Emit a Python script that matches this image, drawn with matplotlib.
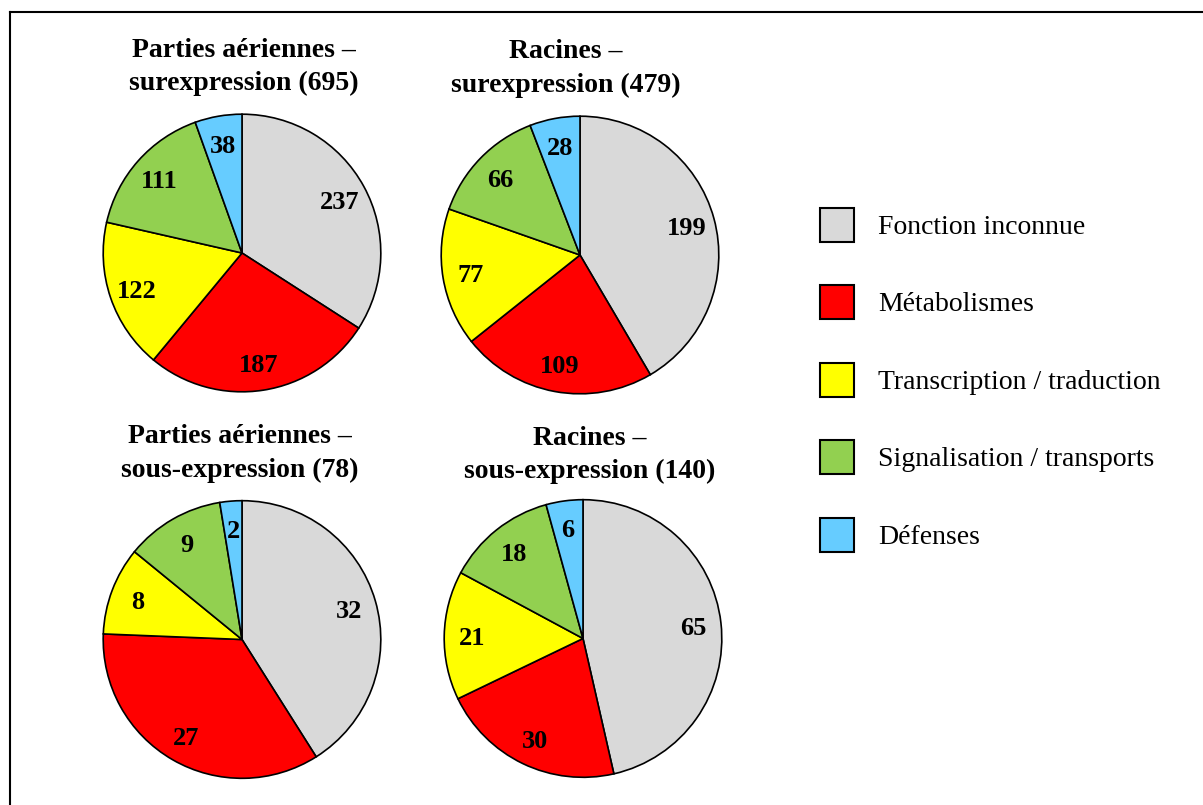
import matplotlib
matplotlib.use("Agg")
import matplotlib.pyplot as plt
from matplotlib.patches import Rectangle
from matplotlib.lines import Line2D

plt.rcParams['font.family'] = ['Liberation Serif', 'DejaVu Serif']

categories = ["Fonction inconnue", "Métabolismes", "Transcription / traduction",
              "Signalisation / transports", "Défenses"]
colors = ["#D9D9D9", "#FF0000", "#FFFF00", "#92D050", "#66CCFF"]

titles = ["Parties aériennes –\nsurexpression (695)",
          "Racines –\nsurexpression (479)",
          "Parties aériennes –\nsous-expression (78)",
          "Racines –\nsous-expression (140)"]

aerial_up = [237, 187, 122, 111, 38]
roots_up = [199, 109, 77, 66, 28]
aerial_down = [32, 27, 8, 9, 2]
roots_down = [65, 30, 21, 18, 6]
series = [aerial_up, roots_up, aerial_down, roots_down]

W, H = 1203, 805
fig = plt.figure(figsize=(W / 100, H / 100), dpi=100)


def fx(px):
    return px / W


def fy(py):
    return 1 - py / H


# pie centres (pixels from top-left), radius, and title anchors
centres = [(242, 253), (580, 255), (242, 639.5), (583, 638.5)]
R = 139.5
title_x = [243.5, 566, 239.5, 590]
title_base = [56.7, 58.5, 443.3, 445]
title_step = 33.3

for vals, title, (cx, cy), tx, tb in zip(series, titles, centres, title_x, title_base):
    ax = fig.add_axes([fx(cx - R), fy(cy + R), 2 * R / W, 2 * R / H])
    wedges, texts = ax.pie(vals, colors=colors, startangle=90, counterclock=False,
                           labels=[str(v) for v in vals], labeldistance=0.8,
                           wedgeprops=dict(edgecolor="black", linewidth=1.2),
                           textprops=dict(fontsize=19, fontweight="bold"))
    for t in texts:
        t.set_ha("center")
        t.set_va("center_baseline")
    ax.set_xlim(-1.005, 1.005)
    ax.set_ylim(-1.005, 1.005)
    ax.set_aspect("equal")
    ax.axis("off")
    for i, line in enumerate(title.split("\n")):
        fig.text(fx(tx), fy(tb + i * title_step), line, ha="center", va="baseline",
                 fontsize=20, fontweight="bold")

# legend: swatches with labels
box = 34
box_left = 820
box_top0 = 208
box_step = 77.5
for i, (lab, col) in enumerate(zip(categories, colors)):
    top = box_top0 + i * box_step
    fig.add_artist(Rectangle((fx(box_left), fy(top + box)), box / W, box / H,
                             facecolor=col, edgecolor="black", linewidth=1.5,
                             transform=fig.transFigure))
    fig.text(fx(878), fy(top + box / 2 + 8.8), lab, ha="left", va="baseline",
             fontsize=20)

# frame lines (top and left)
fig.add_artist(Line2D([fx(10), 1.0], [fy(12), fy(12)], color="black",
                      linewidth=1.5, transform=fig.transFigure))
fig.add_artist(Line2D([fx(10), fx(10)], [fy(12), 0.0], color="black",
                      linewidth=1.5, transform=fig.transFigure))

fig.savefig("out.png", dpi=100)
